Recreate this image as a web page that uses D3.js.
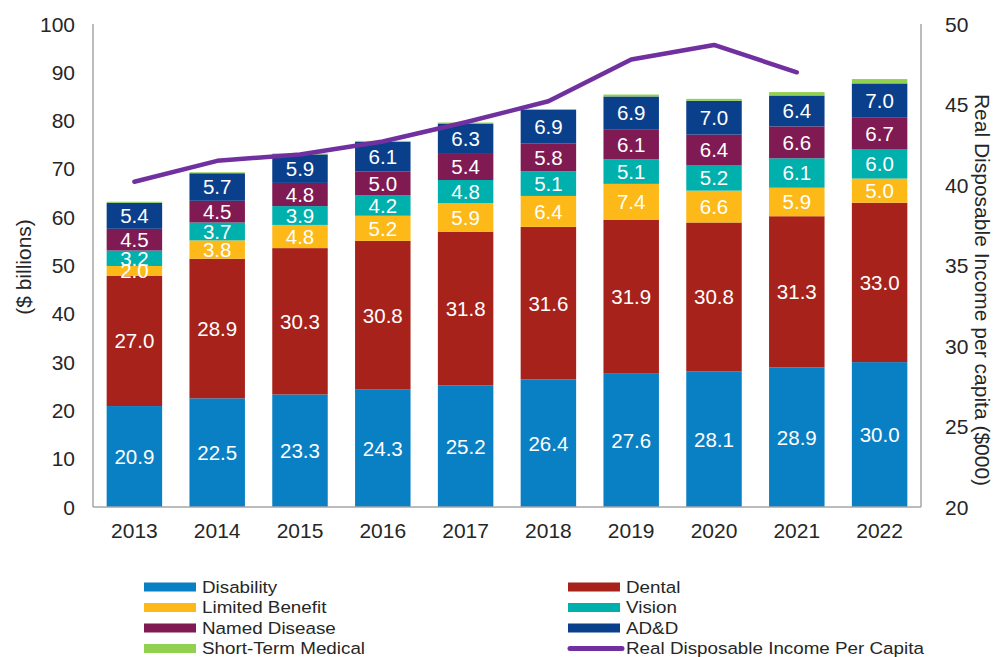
<!DOCTYPE html>
<html>
<head>
<meta charset="utf-8">
<script src="https://cdn.jsdelivr.net/npm/d3@7"></script>
<style>
  body { margin: 0; background: #fff; }
  text { font-family: "Liberation Sans", Arial, sans-serif; }
</style>
</head>
<body>
<script>
const years = ["2013", "2014", "2015", "2016", "2017", "2018", "2019", "2020", "2021", "2022"];
const disability = [20.9, 22.5, 23.3, 24.3, 25.2, 26.4, 27.6, 28.1, 28.9, 30.0];
const dental = [27.0, 28.9, 30.3, 30.8, 31.8, 31.6, 31.9, 30.8, 31.3, 33.0];
const limitedBenefit = [2.0, 3.8, 4.8, 5.2, 5.9, 6.4, 7.4, 6.6, 5.9, 5.0];
const vision = [3.2, 3.7, 3.9, 4.2, 4.8, 5.1, 5.1, 5.2, 6.1, 6.0];
const namedDisease = [4.5, 4.5, 4.8, 5.0, 5.4, 5.8, 6.1, 6.4, 6.6, 6.7];
const add = [5.4, 5.7, 5.9, 6.1, 6.3, 6.9, 6.9, 7.0, 6.4, 7.0];
const shortTermMedical = [0.2, 0.2, 0.2, 0.2, 0.2, 0.2, 0.4, 0.4, 0.7, 0.9];
const incomePerCapita = [40.2, 41.5, 41.9, 42.7, 43.9, 45.2, 47.8, 48.7, 47.0, null];
const leftTicks = [0, 10, 20, 30, 40, 50, 60, 70, 80, 90, 100];
const rightTicks = [20, 25, 30, 35, 40, 45, 50];

let series = [
    {name: "Disability", values: disability, color: "#0a80c4", label: true},
    {name: "Dental", values: dental, color: "#a6221b", label: true},
    {name: "Limited Benefit", values: limitedBenefit, color: "#fdb918", label: true},
    {name: "Vision", values: vision, color: "#00b0ad", label: true},
    {name: "Named Disease", values: namedDisease, color: "#7f1a53", label: true},
    {name: "AD&D", values: add, color: "#0a3f8b", label: true},
    {name: "Short-Term Medical", values: shortTermMedical, color: "#92d050", label: false}
];
const lineColor = "#7030a0";

let width = 1000, height = 657;
let plotLeft = 93, plotRight = 921, plotTop = 24, plotBottom = 507;

let svg = d3.select("body").append("svg")
    .attr("width", width)
    .attr("height", height);

let x = d3.scaleBand().domain(years).range([plotLeft, plotRight]).paddingInner(0.33).paddingOuter(0.165);
let y = d3.scaleLinear().domain([0, 100]).range([plotBottom, plotTop]);
let y2 = d3.scaleLinear().domain([20, 50]).range([plotBottom, plotTop]);

// stacked table
let rows = years.map((yr, i) => {
    let r = {year: yr};
    series.forEach(s => { r[s.name] = s.values[i]; });
    return r;
});
let stack = d3.stack().keys(series.map(s => s.name))(rows);

let groups = svg.append("g").selectAll("g")
    .data(stack)
    .enter().append("g")
    .attr("fill", (d, i) => series[i].color);

groups.selectAll("rect")
    .data(d => d)
    .enter().append("rect")
    .attr("x", d => x(d.data.year))
    .attr("width", x.bandwidth())
    .attr("y", d => y(d[1]))
    .attr("height", d => y(d[0]) - y(d[1]));

// value labels
stack.forEach((layer, i) => {
    if (!series[i].label) return;
    svg.append("g").selectAll("text")
        .data(layer)
        .enter().append("text")
        .attr("x", d => x(d.data.year) + x.bandwidth() / 2)
        .attr("y", d => (y(d[0]) + y(d[1])) / 2)
        .attr("dy", "0.36em")
        .attr("text-anchor", "middle")
        .attr("fill", "#fff")
        .style("font-size", "20.5px")
        .text(d => (d[1] - d[0]).toFixed(1));
});

// axes
let axisColor = "#a6a6a6";
svg.append("line").attr("x1", plotLeft).attr("x2", plotLeft).attr("y1", plotTop).attr("y2", plotBottom)
    .attr("stroke", axisColor).attr("stroke-width", 1.5);
svg.append("line").attr("x1", plotRight).attr("x2", plotRight).attr("y1", plotTop).attr("y2", plotBottom)
    .attr("stroke", axisColor).attr("stroke-width", 1.5);
svg.append("line").attr("x1", plotLeft).attr("x2", plotRight).attr("y1", plotBottom).attr("y2", plotBottom)
    .attr("stroke", axisColor).attr("stroke-width", 1.5);

svg.append("g").selectAll("text")
    .data(leftTicks)
    .enter().append("text")
    .attr("x", 75)
    .attr("y", d => y(d))
    .attr("dy", "0.36em")
    .attr("text-anchor", "end")
    .attr("fill", "#262626")
    .style("font-size", "21px")
    .text(d => d);

svg.append("g").selectAll("text")
    .data(rightTicks)
    .enter().append("text")
    .attr("x", 945)
    .attr("y", d => y2(d))
    .attr("dy", "0.36em")
    .attr("text-anchor", "start")
    .attr("fill", "#262626")
    .style("font-size", "21px")
    .text(d => d);

svg.append("g").selectAll("text")
    .data(years)
    .enter().append("text")
    .attr("x", d => x(d) + x.bandwidth() / 2)
    .attr("y", 538)
    .attr("text-anchor", "middle")
    .attr("fill", "#262626")
    .style("font-size", "21px")
    .text(d => d);

svg.append("text")
    .attr("transform", "translate(23,267)rotate(-90)")
    .attr("text-anchor", "middle")
    .attr("dy", "0.36em")
    .attr("fill", "#262626")
    .style("font-size", "21px")
    .text("($ billions)");

svg.append("text")
    .attr("transform", "translate(983,290)rotate(90)")
    .attr("text-anchor", "middle")
    .attr("dy", "0.36em")
    .attr("fill", "#262626")
    .style("font-size", "21px")
    .text("Real Disposable Income per capita ($000)");

// income line
let line = d3.line()
    .defined(d => d.v != null)
    .x(d => x(d.year) + x.bandwidth() / 2)
    .y(d => y2(d.v));

svg.append("path")
    .datum(years.map((yr, i) => ({year: yr, v: incomePerCapita[i]})))
    .attr("fill", "none")
    .attr("stroke", lineColor)
    .attr("stroke-width", 4.5)
    .attr("stroke-linecap", "round")
    .attr("stroke-linejoin", "round")
    .attr("d", line);

// legend
let legendItems = [
    {name: "Disability", color: series[0].color, type: "rect", col: 0, row: 0},
    {name: "Dental", color: series[1].color, type: "rect", col: 1, row: 0},
    {name: "Limited Benefit", color: series[2].color, type: "rect", col: 0, row: 1},
    {name: "Vision", color: series[3].color, type: "rect", col: 1, row: 1},
    {name: "Named Disease", color: series[4].color, type: "rect", col: 0, row: 2},
    {name: "AD&D", color: series[5].color, type: "rect", col: 1, row: 2},
    {name: "Short-Term Medical", color: series[6].color, type: "rect", col: 0, row: 3},
    {name: "Real Disposable Income Per Capita", color: lineColor, type: "line", col: 1, row: 3}
];
let colX = [144, 568];

let legend = svg.append("g").selectAll("g")
    .data(legendItems)
    .enter().append("g")
    .attr("transform", d => "translate(" + colX[d.col] + "," + (587 + d.row * 20.5) + ")");

legend.filter(d => d.type === "rect").append("rect")
    .attr("x", 0).attr("y", -4.5).attr("width", 52).attr("height", 9)
    .attr("fill", d => d.color);

legend.filter(d => d.type === "line").append("line")
    .attr("x1", 2).attr("x2", 54).attr("y1", 0).attr("y2", 0)
    .attr("stroke", d => d.color).attr("stroke-width", 5)
    .attr("stroke-linecap", "round");

// legend text is a bit wider than tall in the original
legend.append("text")
    .attr("transform", "translate(58,0)scale(1.14,1)")
    .attr("dy", "0.36em")
    .attr("fill", "#262626")
    .style("font-size", "16.5px")
    .text(d => d.name);
</script>
</body>
</html>
